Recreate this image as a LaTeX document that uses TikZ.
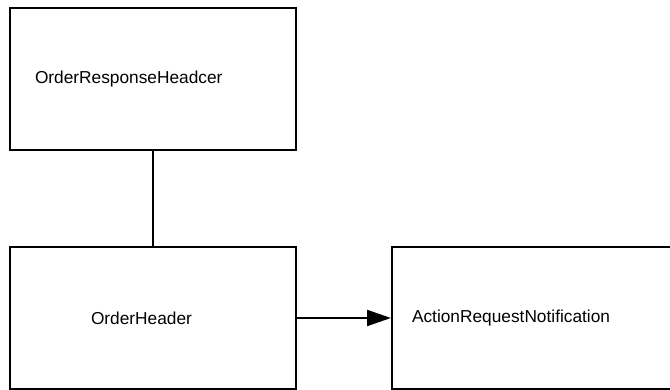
\documentclass[tikz,border=0pt]{standalone}
\usepackage{fontspec}
\setmainfont{Liberation Sans}
\usetikzlibrary{arrows.meta, positioning}
\tikzset{
	entity/.style={rectangle, draw=black, line width=2pt, minimum height=142pt, align=left, font=\fontsize{17.3}{20}\selectfont},
	link/.style={line width=2pt},
	assoc/.style={-{Triangle[length=24pt, width=16pt]}, line width=2pt},
}
\begin{document}
\begin{tikzpicture}[x=1pt, y=-1pt]
	\useasboundingbox (0,0) rectangle (670,390);
	\clip (0,0) rectangle (670,390);
	\node[entity, inner xsep=25pt, text width=236pt] (resp) at (153,79) {OrderResponseHeadcer};
	\node[entity, inner xsep=81pt, text width=124pt, below=95pt of resp] (hdr) {OrderHeader};
	\node[entity, inner xsep=20pt, text width=280pt, right=94pt of hdr] (notif) {ActionRequestNotification};
	\draw[link] (resp) -- (hdr);
	\draw[assoc] (hdr) -- (notif);
\end{tikzpicture}
\end{document}
